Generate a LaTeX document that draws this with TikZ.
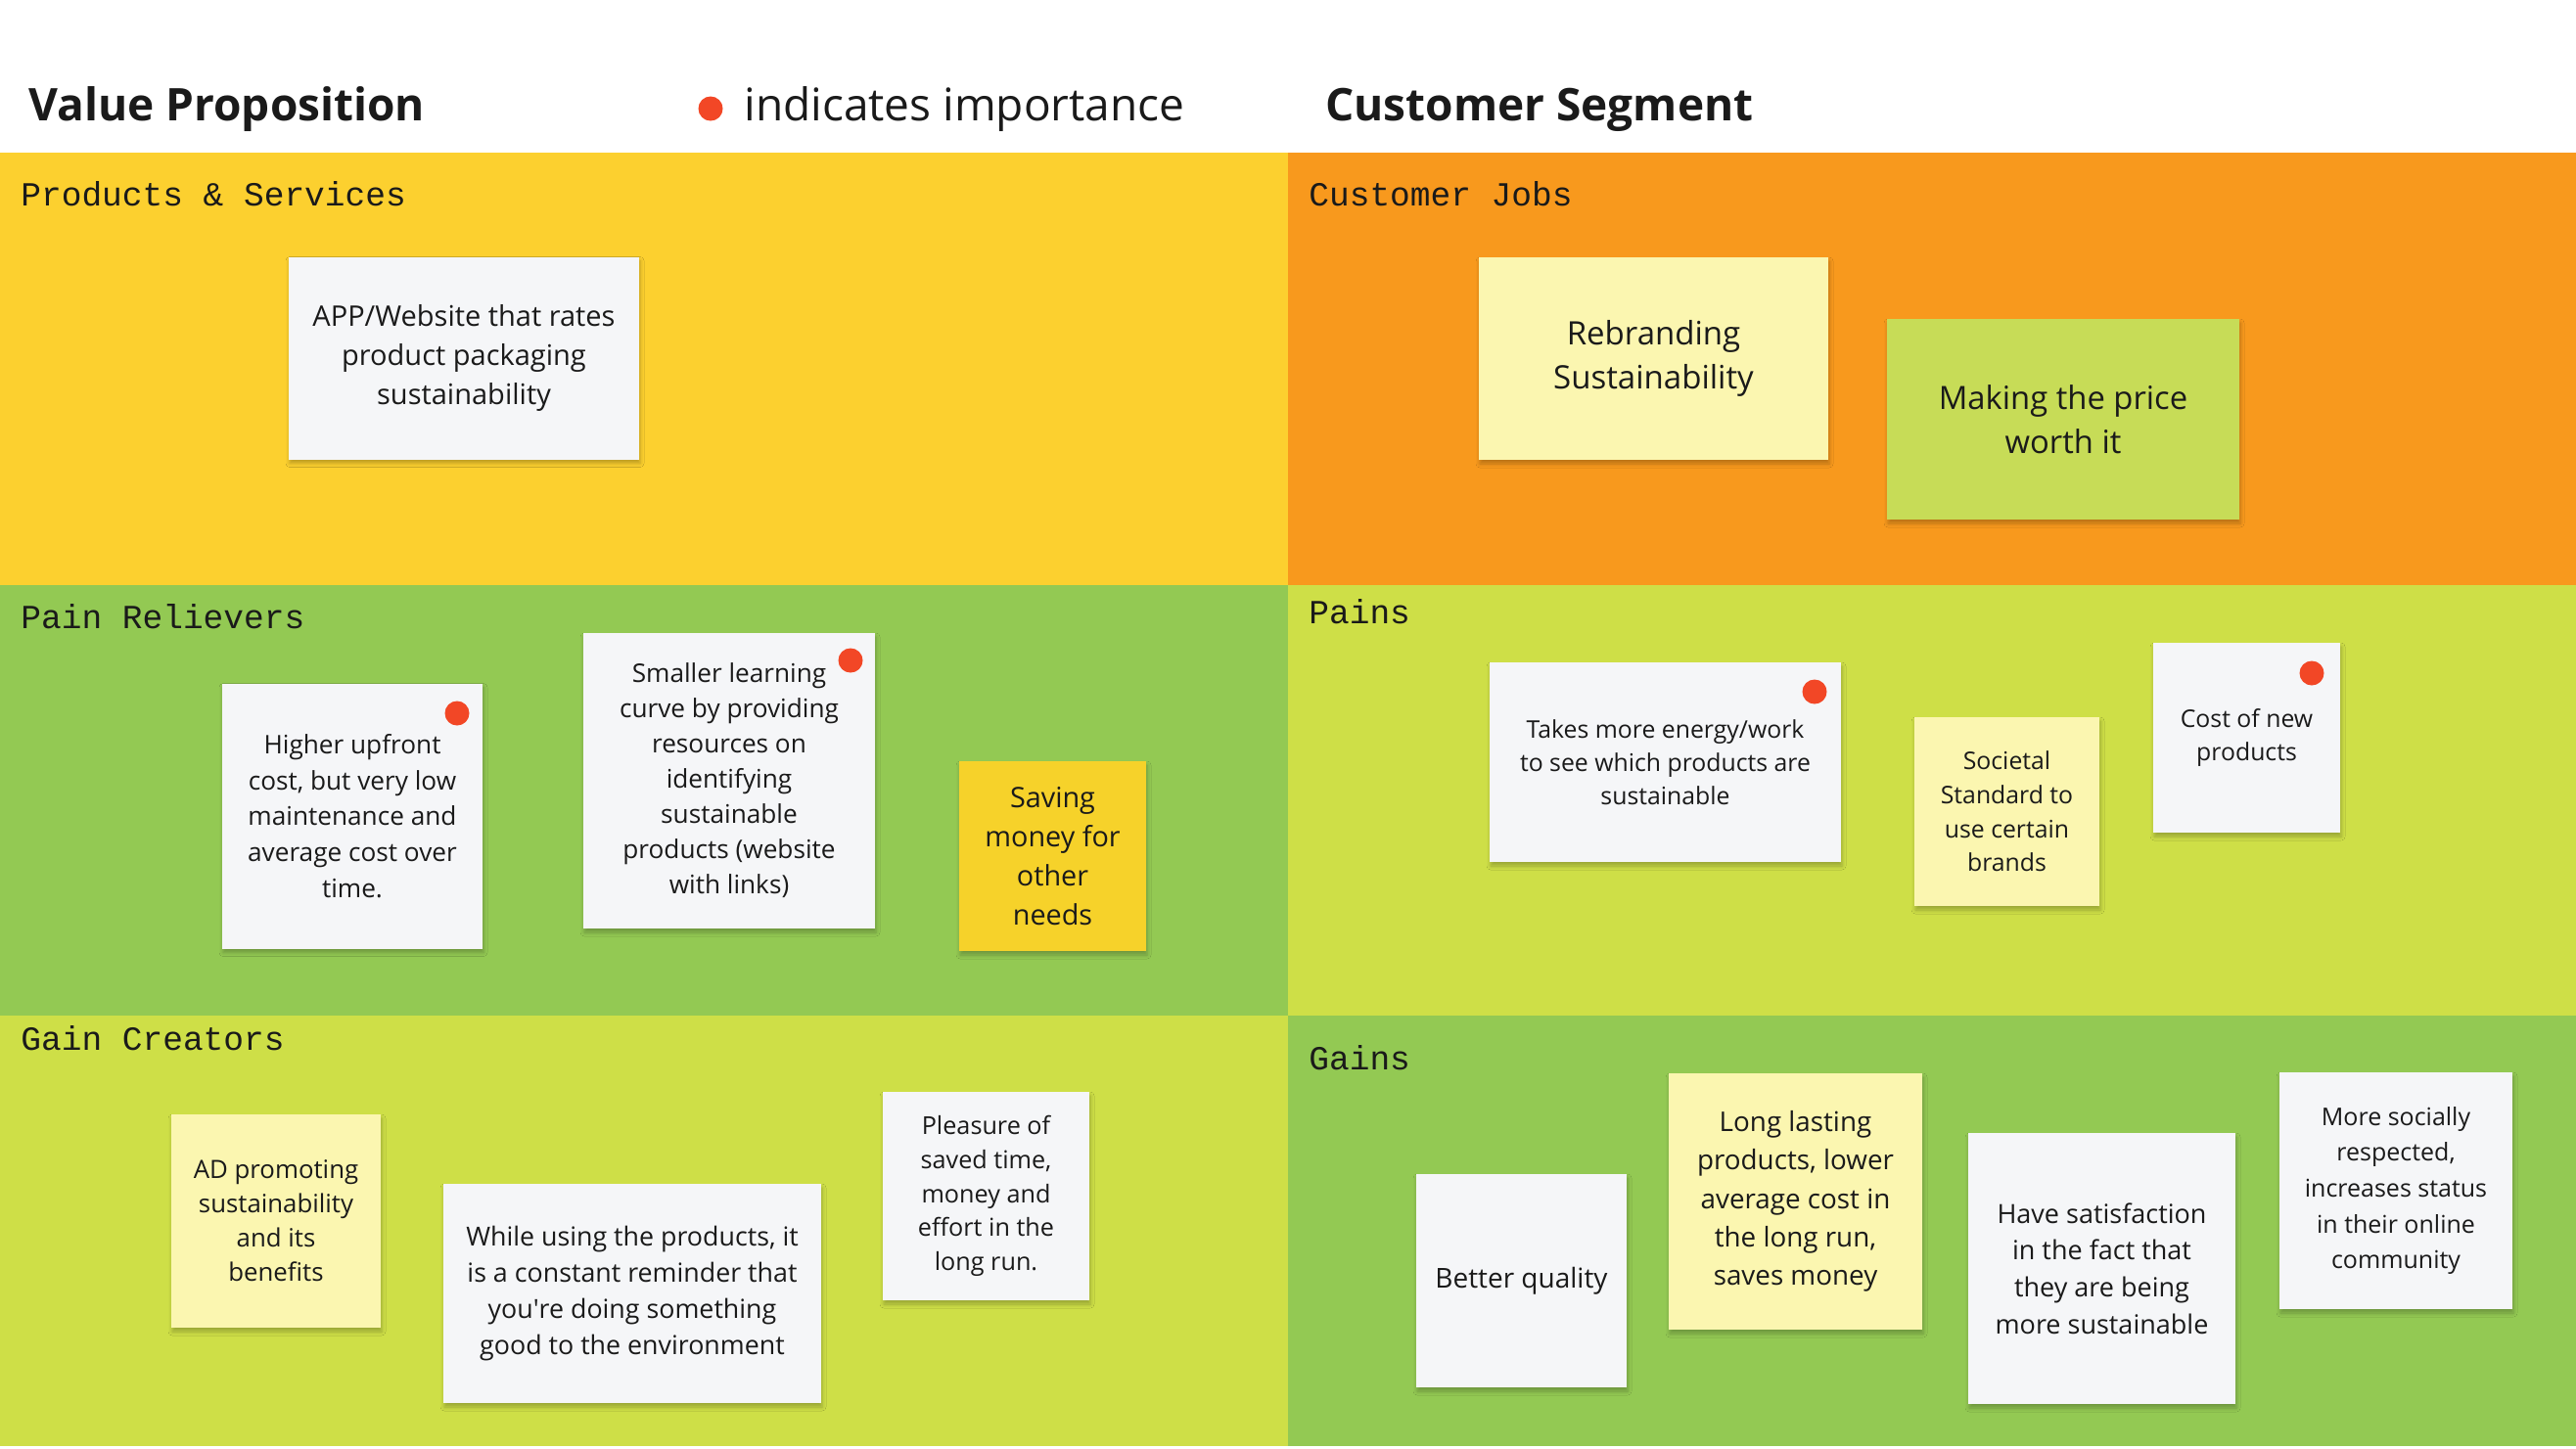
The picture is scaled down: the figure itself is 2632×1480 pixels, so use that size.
\documentclass[tikz,border=0pt]{standalone}
\usepackage{fontspec}
\setmainfont{Open Sans}
\newfontfamily\labelfont{Liberation Mono}
\usetikzlibrary{shadows.blur}

\definecolor{ink}{HTML}{1A1A1A}
\definecolor{psyellow}{HTML}{FCD02F}
\definecolor{cjorange}{HTML}{F8991D}
\definecolor{prgreen}{HTML}{93C953}
\definecolor{lime}{HTML}{CEDF47}
\definecolor{notewhite}{HTML}{F5F6F8}
\definecolor{notecream}{HTML}{FBF6B0}
\definecolor{notelime}{HTML}{C7DC57}
\definecolor{noteyellow}{HTML}{F6D22A}
\definecolor{dotred}{HTML}{F24726}

\begin{document}
\begin{tikzpicture}[x=0.5pt,y=-0.5pt,
  title/.style={anchor=base west, inner sep=0pt, text=ink, font=\fontsize{23}{28}\selectfont},
  panel label/.style={anchor=base west, inner sep=0pt, text=ink, font=\labelfont\fontsize{17.25}{20}\selectfont},
  note/.style 2 args={minimum width=#1*0.5pt, minimum height=#2*0.5pt, inner sep=0pt,
    align=center, text=ink,
    blur shadow={shadow xshift=0.5pt, shadow yshift=-2pt, shadow blur radius=2pt, shadow opacity=25}},
  fs/.style 2 args={font=\fontsize{#1}{#2}\selectfont},
  dot/.style={circle, fill=dotred, minimum size=12.5pt, inner sep=0pt}
]
\useasboundingbox (0,0) rectangle (2632,1480);
\fill[white] (0,0) rectangle (2632,1480);

% canvas quadrants
\fill[psyellow] (0,156) rectangle (1316,597.5);
\fill[cjorange] (1316,156) rectangle (2632,597.5);
\fill[prgreen]  (0,597.5) rectangle (1316,1038);
\fill[lime]     (1316,597.5) rectangle (2632,1038);
\fill[lime]     (0,1038) rectangle (1316,1478);
\fill[prgreen]  (1316,1038) rectangle (2632,1478);

% headings
\node[title, font=\bfseries\fontsize{23}{28}\selectfont] (vp) at (29,123) {Value Proposition};
\node[dot] (legenddot) at (726,111) {};
\node[title] (legend) at (760,123) {indicates importance};
\node[title, font=\bfseries\fontsize{23}{28}\selectfont] (cs) at (1354,123) {Customer Segment};

% section labels
\node[panel label] (lps) at (21,210) {Products \& Services};
\node[panel label] (lcj) at (1337,210) {Customer Jobs};
\node[panel label] (lpr) at (21,642) {Pain Relievers};
\node[panel label] (lpn) at (1337,637) {Pains};
\node[panel label] (lgc) at (21,1073) {Gain Creators};
\node[panel label] (lgn) at (1337,1093) {Gains};

% Products & Services
\node[note={358}{207}, fill=notewhite, fs={14.5}{20}] (app) at (474,366)
  {APP/Website that rates\\product packaging\\sustainability};

% Customer Jobs
\node[note={357}{207}, fill=notecream, fs={16.5}{22.5}] (rebrand) at (1689.5,366.5)
  {Rebranding\\Sustainability};
\node[note={360}{205}, fill=notelime, fs={16.4}{22.5}] (price) at (2108,428.5)
  {Making the price\\worth it};

% Pain Relievers
\node[note={266}{271}, fill=notewhite, fs={13.1}{18.35}] (higher) at (360,834)
  {Higher upfront\\cost, but very low\\maintenance and\\average cost over\\time.};
\node[dot] (higherdot) at (467,729) {};
\node[note={298}{302}, fill=notewhite, fs={13.1}{18}] (smaller) at (745,798)
  {Smaller learning\\curve by providing\\resources on\\identifying\\sustainable\\products (website\\with links)};
\node[dot] (smallerdot) at (869,675) {};
\node[note={191}{194}, fill=noteyellow, fs={14.4}{20}] (saving) at (1075.5,875)
  {Saving\\money for\\other\\needs};

% Pains
\node[note={359}{204}, fill=notewhite, fs={12.4}{17}] (takes) at (1701.5,779)
  {Takes more energy/work\\to see which products are\\sustainable};
\node[dot] (takesdot) at (1854,707) {};
\node[note={189}{193}, fill=notecream, fs={12.4}{17.35}] (societal) at (2050.5,829.5)
  {Societal\\Standard to\\use certain\\brands};
\node[note={191}{194}, fill=notewhite, fs={12.4}{16.7}] (cost) at (2295.5,754)
  {Cost of new\\products};
\node[dot] (costdot) at (2362,688) {};

% Gain Creators
\node[note={214}{218}, fill=notecream, fs={12.9}{17.5}] (ad) at (282,1248)
  {AD promoting\\sustainability\\and its\\benefits};
\node[note={386}{224}, fill=notewhite, fs={13.4}{18.65}] (while) at (646,1322)
  {While using the products, it\\is a constant reminder that\\you\textquotesingle re doing something\\good to the environment};
\node[note={211}{213}, fill=notewhite, fs={12.6}{17.35}] (pleasure) at (1007.5,1222.5)
  {Pleasure of\\saved time,\\money and\\effort in the\\long run.};

% Gains
\node[note={215}{218}, fill=notewhite, fs={14}{19}] (better) at (1554.5,1309)
  {Better quality};
\node[note={259}{262}, fill=notecream, fs={13.9}{19.65}] (long) at (1834.5,1228)
  {Long lasting\\products, lower\\average cost in\\the long run,\\saves money};
\node[note={273}{277}, fill=notewhite, fs={13.5}{18.85}] (have) at (2147.5,1296.5)
  {Have satisfaction\\in the fact that\\they are being\\more sustainable};
\node[note={238}{242}, fill=notewhite, fs={12.5}{18.35}] (more) at (2448,1217)
  {More socially\\respected,\\increases status\\in their online\\community};
\end{tikzpicture}
\end{document}
